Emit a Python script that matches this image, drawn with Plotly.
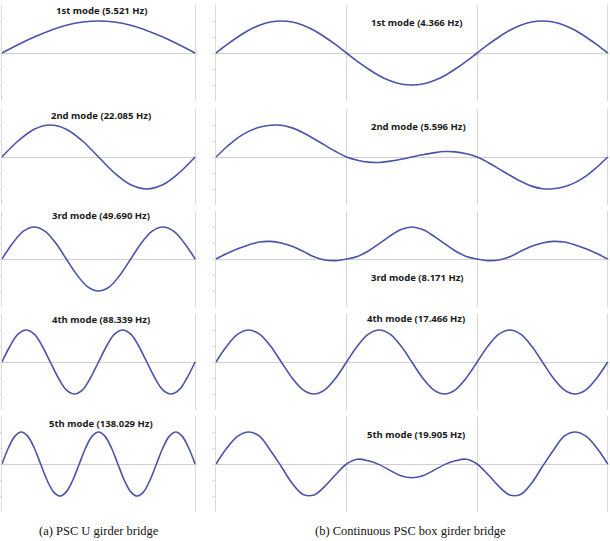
import plotly.graph_objects as go

# ---------------- data ----------------
# (a) PSC U girder bridge: x = relative position along span
L_X1 = [0, .167, .333, .5, .667, .833, 1]
L_Y1 = [0, .5, .87, 1, .87, .5, 0]

L_X2 = [0, .083, .167, .25, .333, .417, .5, .583, .667, .75, .833, .917, 1]
L_Y2 = [0, .5, .87, 1, .87, .5, 0, -.5, -.87, -1, -.87, -.5, 0]

L_X3 = [0, .056, .111, .167, .222, .278, .333, .389, .444, .5, .556, .611,
        .667, .722, .778, .833, .889, .944, 1]
L_Y3 = [0, .5, .87, 1, .87, .5, 0, -.5, -.87, -1, -.87, -.5,
        0, .5, .87, 1, .87, .5, 0]

L_X4 = [0, .042, .083, .125, .167, .208, .25, .292, .333, .375, .417, .458,
        .5, .542, .583, .625, .667, .708, .75, .792, .833, .875, .917, .958, 1]
L_Y4 = [0, .5, .87, 1, .87, .5, 0, -.5, -.87, -1, -.87, -.5,
        0, .5, .87, 1, .87, .5, 0, -.5, -.87, -1, -.87, -.5, 0]

L_X5 = [0, .033, .067, .1, .133, .167, .2, .233, .267, .3, .333, .367, .4, .433,
        .467, .5, .533, .567, .6, .633, .667, .7, .733, .767, .8, .833, .867,
        .9, .933, .967, 1]
L_Y5 = [0, .5, .87, 1, .87, .5, 0, -.5, -.87, -1, -.87, -.5,
        0, .5, .87, 1, .87, .5, 0, -.5, -.87, -1, -.87, -.5,
        0, .5, .87, 1, .87, .5, 0]

# (b) Continuous PSC box girder bridge (3 spans): x in span units
R_X = [0, .083, .167, .25, .333, .417, .5, .583, .667, .75, .833, .917,
       1, 1.083, 1.167, 1.25, 1.333, 1.417, 1.5, 1.583, 1.667, 1.75, 1.833, 1.917,
       2, 2.083, 2.167, 2.25, 2.333, 2.417, 2.5, 2.583, 2.667, 2.75, 2.833, 2.917, 3]
R_Y1 = [0, .26, .5, .71, .87, .97, 1, .97, .87, .71, .5, .26,
        0, -.26, -.5, -.71, -.87, -.97, -1, -.97, -.87, -.71, -.5, -.26,
        0, .26, .5, .71, .87, .97, 1, .97, .87, .71, .5, .26, 0]
R_Y2 = [0, .32, .6, .8, .93, .99, .99, .91, .76, .57, .37, .17,
        0, -.1, -.16, -.17, -.13, -.07, 0, .07, .13, .17, .16, .1,
        0, -.17, -.37, -.57, -.76, -.91, -.99, -.99, -.93, -.8, -.6, -.32, 0]
R_Y3 = [0, .17, .32, .44, .53, .55, .5, .4, .24, .07, -.03, -.05,
        0, .08, .25, .48, .72, .92, 1, .92, .72, .48, .25, .08,
        0, -.05, -.03, .07, .24, .4, .5, .55, .53, .44, .32, .17, 0]
R_Y4 = [0, .5, .87, 1, .87, .5, 0, -.5, -.87, -1, -.87, -.5,
        0, .5, .87, 1, .87, .5, 0, -.5, -.87, -1, -.87, -.5,
        0, .5, .87, 1, .87, .5, 0, -.5, -.87, -1, -.87, -.5, 0]
R_Y5 = [0, .5, .87, 1, .87, .42, -.08, -.6, -.95, -.97, -.7, -.33,
        0, .15, .1, -.02, -.2, -.37, -.43, -.37, -.2, -.02, .1, .15,
        0, -.33, -.7, -.97, -.95, -.6, -.08, .42, .87, 1, .87, .5, 0]

LEFT_TITLES = ["1st mode (5.521 Hz)", "2nd mode (22.085 Hz)", "3rd mode (49.690 Hz)",
               "4th mode (88.339 Hz)", "5th mode (138.029 Hz)"]
RIGHT_TITLES = ["1st mode (4.366 Hz)", "2nd mode (5.596 Hz)", "3rd mode (8.171 Hz)",
                "4th mode (17.466 Hz)", "5th mode (19.905 Hz)"]
CAPTIONS = ["(a) PSC U girder bridge", "(b) Continuous PSC box girder bridge"]

LEFT = [(L_X1, L_Y1), (L_X2, L_Y2), (L_X3, L_Y3), (L_X4, L_Y4), (L_X5, L_Y5)]
RIGHT = [R_Y1, R_Y2, R_Y3, R_Y4, R_Y5]

# ---------------- layout ----------------
W, H = 610, 541
ROWS_PX = [(5, 101), (109, 205), (211, 307), (314, 410), (416, 512)]
LEFT_PX = (2, 197)
RIGHT_PX = (216, 609)
LT_POS = [(101, 10), (101, 115), (101, 216), (101, 319), (101, 423)]
RT_POS = [(416, 23), (418, 127), (417, 277), (416, 318), (416, 434)]

LINE = "#4b53a8"
GRID = "#d9d9d9"
ZERO = "#cfcfcf"


def px(x):
    return x / W


def py(y):
    return 1 - y / H


fig = go.Figure()
layout = dict(width=W, height=H, margin=dict(l=0, r=0, t=0, b=0),
              paper_bgcolor="white", plot_bgcolor="white", showlegend=False)
annotations = []

idx = 0
for r in range(5):
    for c in range(2):
        idx += 1
        xa = "xaxis" if idx == 1 else f"xaxis{idx}"
        ya = "yaxis" if idx == 1 else f"yaxis{idx}"
        xr = "x" if idx == 1 else f"x{idx}"
        yr = "y" if idx == 1 else f"y{idx}"
        top, bot = ROWS_PX[r]
        cx = LEFT_PX if c == 0 else RIGHT_PX
        if c == 0:
            xs, ys = LEFT[r]
            xrange = [0, 1.01]
            tv = [0, 1]
        else:
            xs, ys = R_X, RIGHT[r]
            xrange = [0, 3.01]
            tv = [0, 1, 2, 3]
        fig.add_trace(go.Scatter(x=xs, y=ys, mode="lines", xaxis=xr, yaxis=yr,
                                 line=dict(color=LINE, width=1.6, shape="spline"),
                                 hoverinfo="skip"))
        layout[xa] = dict(domain=[px(cx[0]), px(cx[1])], range=xrange, anchor=yr,
                          showgrid=True, gridcolor=GRID, gridwidth=1.2, tickvals=tv,
                          showticklabels=False, zeroline=False, showline=False,
                          ticks="", fixedrange=True)
        layout[ya] = dict(domain=[py(bot), py(top)], range=[-1.5, 1.5], anchor=xr,
                          showgrid=False, zeroline=True, zerolinecolor=ZERO,
                          zerolinewidth=1.2, showline=True, linecolor=GRID,
                          linewidth=1.2, ticks="outside", ticklen=3, tickcolor=GRID,
                          tickvals=[-1, -0.5, 0, 0.5, 1], showticklabels=False,
                          fixedrange=True)

for i in range(5):
    for titles, pos in ((LEFT_TITLES, LT_POS), (RIGHT_TITLES, RT_POS)):
        annotations.append(dict(text=f"<b>{titles[i]}</b>", xref="paper", yref="paper",
                                x=px(pos[i][0]), y=py(pos[i][1]), xanchor="center",
                                yanchor="middle", showarrow=False,
                                font=dict(family="Noto Sans", size=9.5, color="#1a1a1a")))

for txt, xc in zip(CAPTIONS, (99, 410)):
    annotations.append(dict(text=txt, xref="paper", yref="paper", x=px(xc), y=py(531),
                            xanchor="center", yanchor="middle", showarrow=False,
                            font=dict(family="Liberation Serif", size=12.5, color="#111111")))

layout["annotations"] = annotations
fig.update_layout(**layout)
fig.write_html("out.html")
